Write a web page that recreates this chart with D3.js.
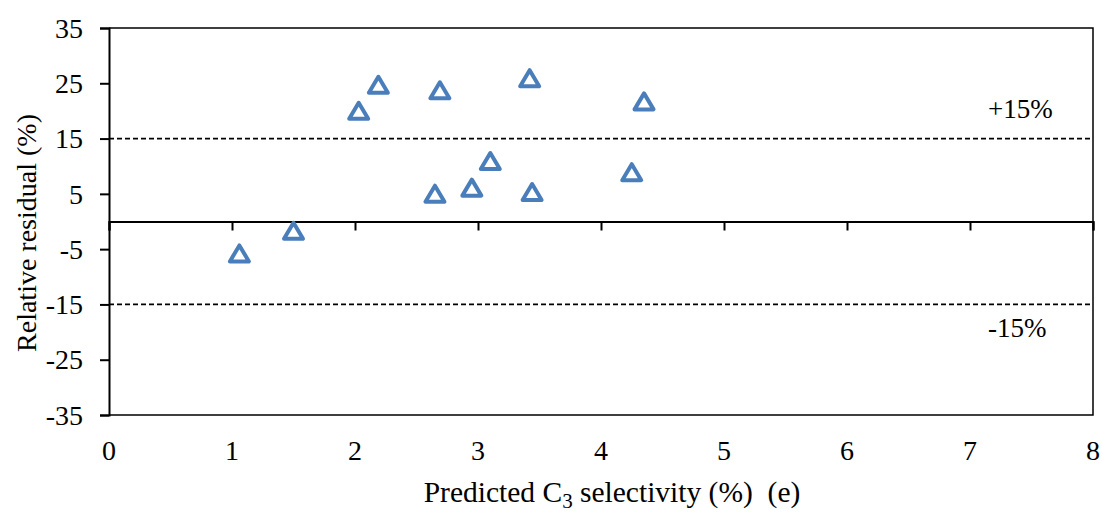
<!DOCTYPE html>
<html>
<head>
<meta charset="utf-8">
<script src="https://cdn.jsdelivr.net/npm/d3@7"></script>
<style>
  html, body { margin: 0; padding: 0; background: #fff; }
  svg { display: block; }
  text { font-family: "Liberation Serif", "Times New Roman", serif; fill: #000; }
</style>
</head>
<body>
<script>
// Predicted C3 selectivity (%) and relative residual (%) for each sample
const predicted = [1.06, 1.50, 2.03, 2.19, 2.65, 2.69, 2.95, 3.10, 3.42, 3.44, 4.25, 4.35];
const residual  = [-5.9, -1.8, 19.9, 24.6, 4.9, 23.6, 6.0, 10.8, 25.8, 5.2, 8.8, 21.6];

const xTicks = [0, 1, 2, 3, 4, 5, 6, 7, 8];
const yTicks = [35, 25, 15, 5, -5, -15, -25, -35];
const bandLimits = [15, -15];
const bandLabels = ["+15%", "-15%"];

const W = 1102, H = 513;
const margin = { left: 109, right: 9, top: 28, bottom: 98 };

const svg = d3.select("body").append("svg")
  .attr("width", W).attr("height", H);

const x = d3.scaleLinear().domain([0, 8]).range([margin.left, W - margin.right]);
const y = d3.scaleLinear().domain([-35, 35]).range([H - margin.bottom, margin.top]);

// Plot frame: top and right borders, bottom edge at -35
svg.append("path")
  .attr("d", `M${x(0)},${y(35)}H${x(8)}V${y(-35)}H${x(0)}`)
  .attr("fill", "none").attr("stroke", "#000").attr("stroke-width", 1.5);

// Y axis with outward ticks
const yAxis = d3.axisLeft(y).tickValues(yTicks).tickSize(9).tickPadding(17)
  .tickFormat(d => d < 0 ? "-" + Math.abs(d) : String(d));
const gy = svg.append("g").attr("transform", `translate(${x(0)},0)`).call(yAxis);
gy.select(".domain").attr("stroke-width", 2);
gy.selectAll(".tick line").attr("stroke-width", 2);
gy.selectAll("text").style("font-size", "28px").attr("dy", "0.33em");

// X axis drawn through zero, ticks hanging below the line
const xAxis = d3.axisBottom(x).tickValues(xTicks).tickSize(9).tickFormat("");
const gx = svg.append("g").attr("transform", `translate(0,${y(0)})`).call(xAxis);
gx.select(".domain").attr("stroke-width", 2);
gx.selectAll(".tick line").attr("stroke-width", 2);

// X tick labels sit below the plot area
svg.append("g").selectAll("text").data(xTicks).join("text")
  .attr("x", d => x(d)).attr("y", y(-35) + 45)
  .attr("text-anchor", "middle").style("font-size", "28px")
  .text(d => d);

// ±15% reference lines
svg.append("g").selectAll("line").data(bandLimits).join("line")
  .attr("x1", x(0)).attr("x2", x(8))
  .attr("y1", d => y(d)).attr("y2", d => y(d))
  .attr("stroke", "#000").attr("stroke-width", 1.7)
  .attr("stroke-dasharray", "5,3");

svg.append("text").attr("x", x(8) - 105).attr("y", y(15) - 21)
  .style("font-size", "27px").text(bandLabels[0]);
svg.append("text").attr("x", x(8) - 105).attr("y", y(-15) + 33)
  .style("font-size", "27px").text(bandLabels[1]);

// Hollow triangle markers
const tri = (cx, cy) => {
  const hw = 9.5, top = 8.7, bot = 7.3;
  return `M${cx},${cy - top}L${cx + hw},${cy + bot}L${cx - hw},${cy + bot}Z`;
};
svg.append("g").selectAll("path").data(predicted.map((p, i) => [p, residual[i]]))
  .join("path")
  .attr("d", d => tri(x(d[0]), y(d[1])))
  .attr("fill", "none").attr("stroke", "#4A7EBB").attr("stroke-width", 4)
  .attr("stroke-linejoin", "round");

// Axis titles
const xt = svg.append("text").attr("x", 612).attr("y", 502)
  .attr("text-anchor", "middle").style("font-size", "29.5px");
xt.append("tspan").text("Predicted C");
xt.append("tspan").attr("dy", 6).style("font-size", "21px").text("3");
xt.append("tspan").attr("dy", -6).text(" selectivity (%)\u00a0\u00a0(e)");

svg.append("text")
  .attr("transform", `translate(36,233) rotate(-90)`)
  .attr("text-anchor", "middle").style("font-size", "28px")
  .text("Relative residual (%)");
</script>
</body>
</html>
